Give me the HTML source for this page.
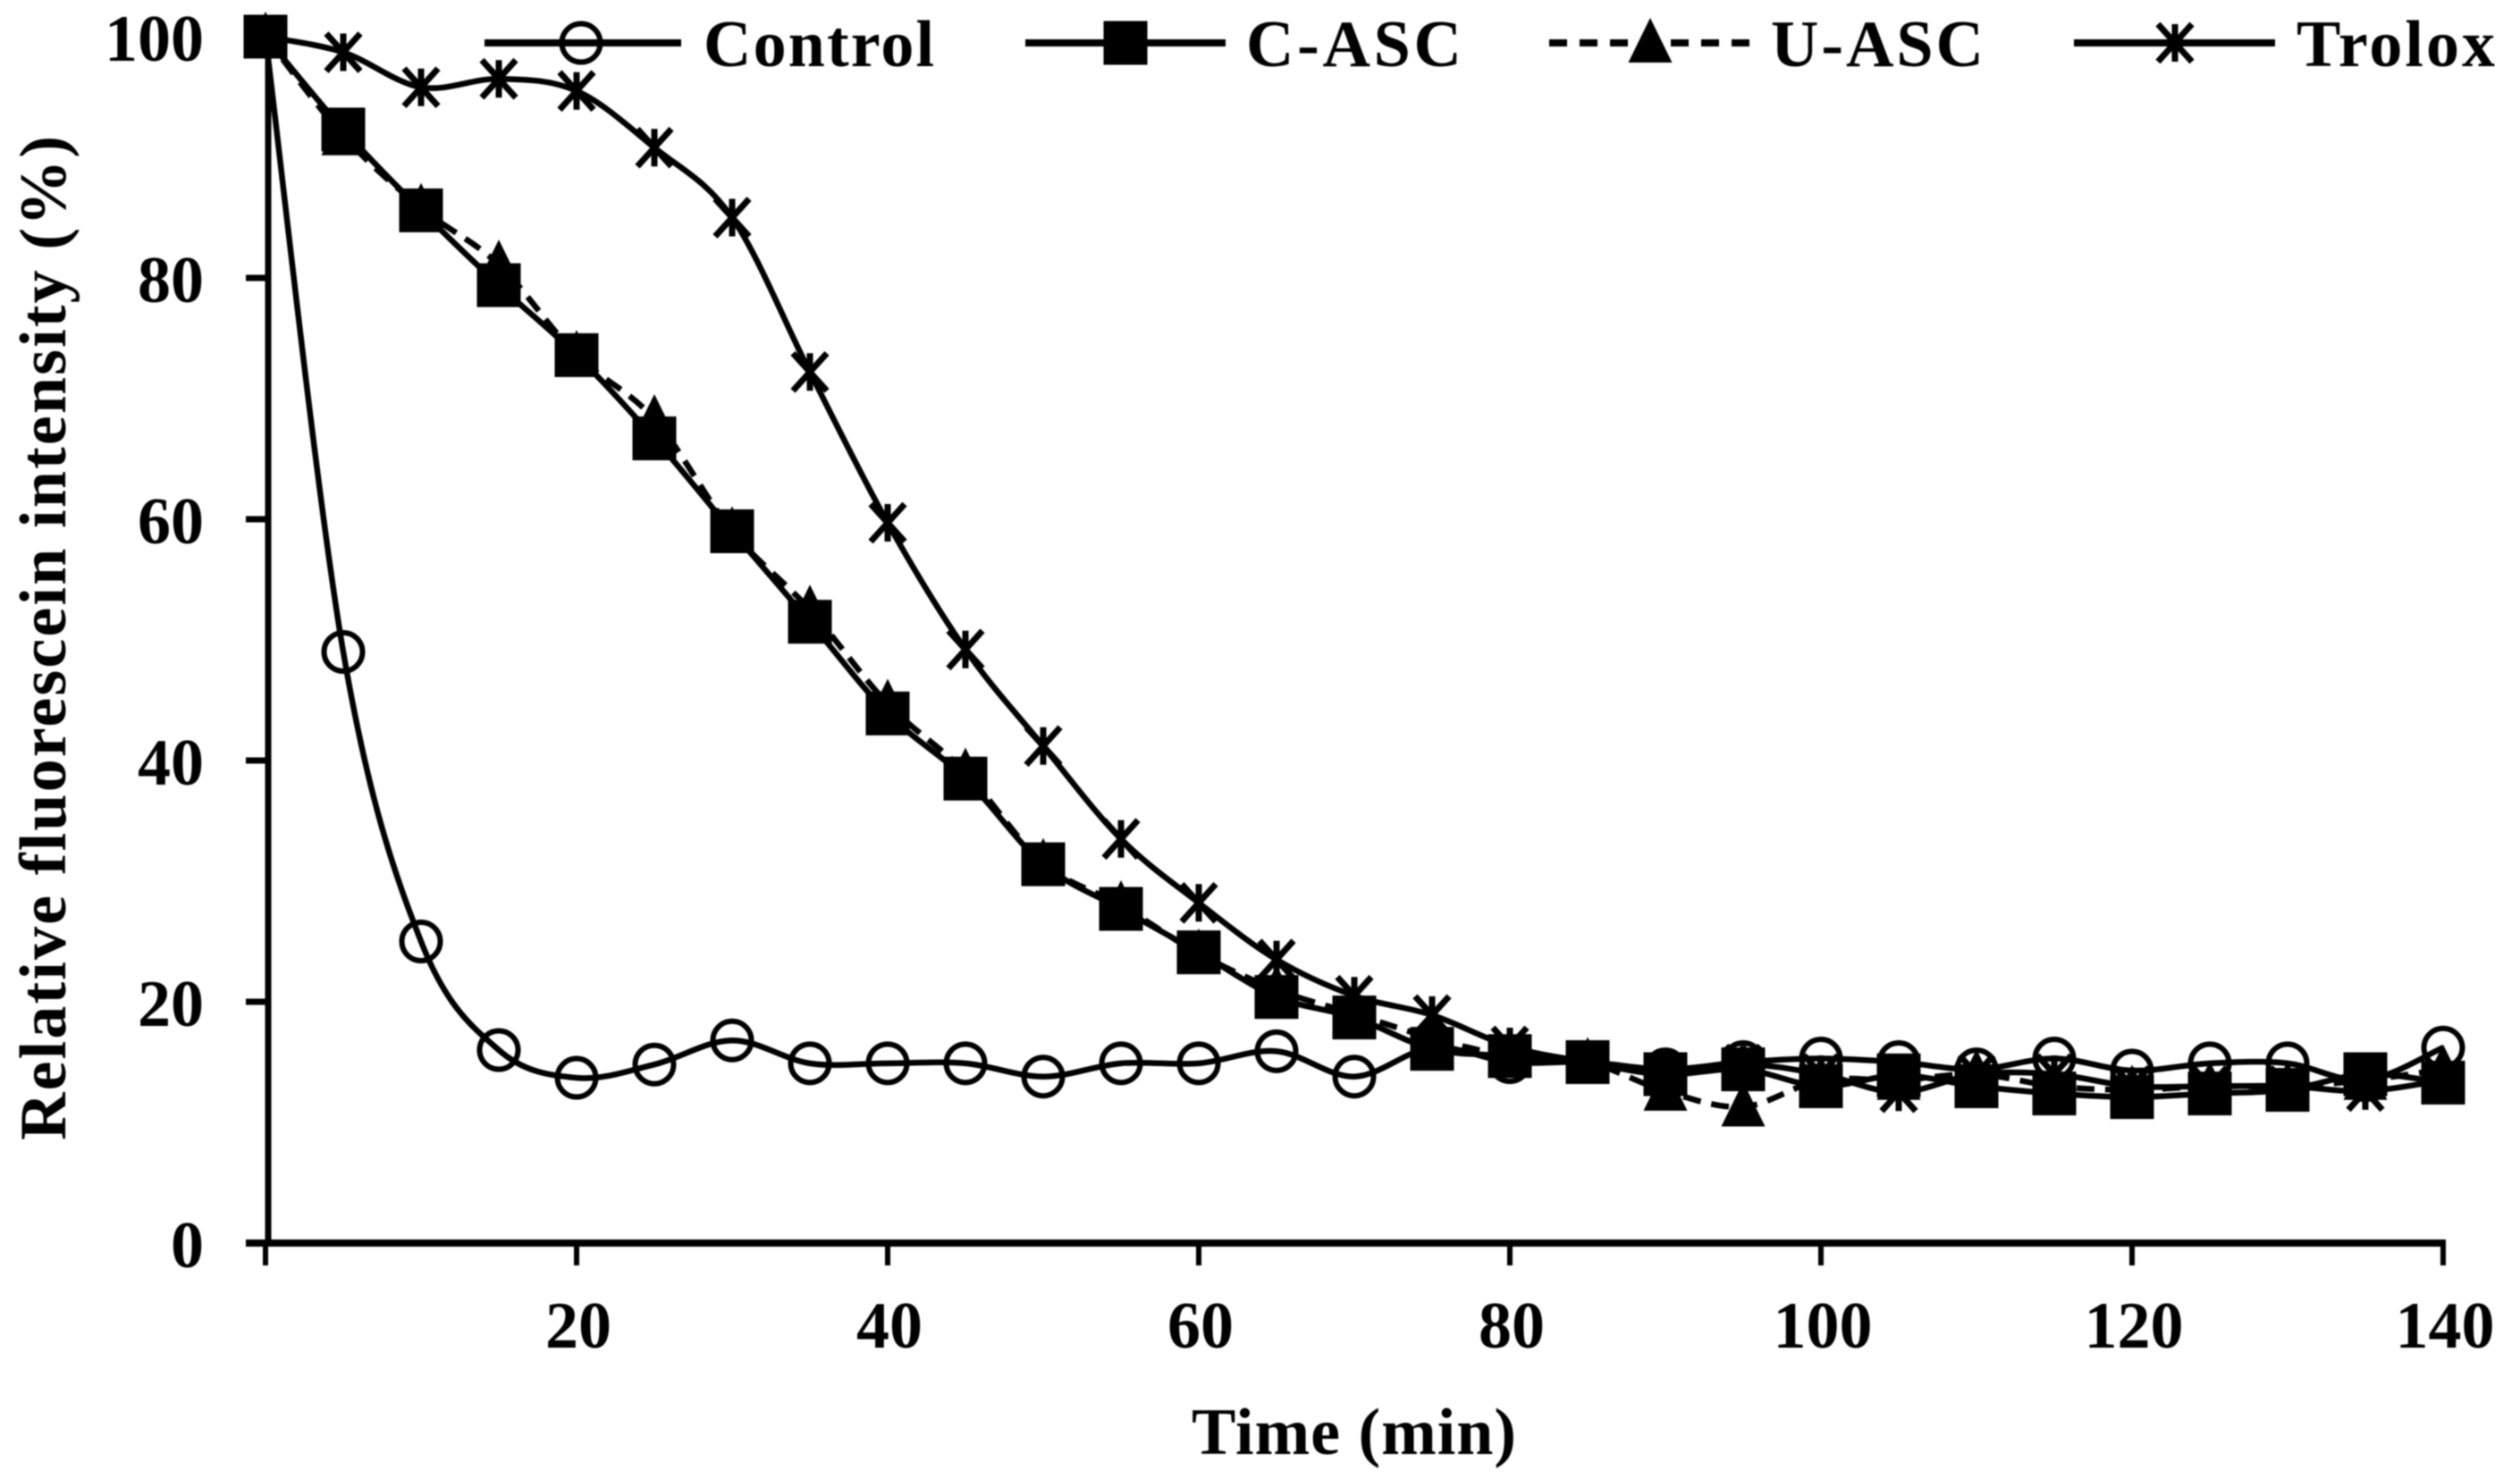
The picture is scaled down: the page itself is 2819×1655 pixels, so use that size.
<!DOCTYPE html>
<html>
<head>
<meta charset="utf-8">
<title>Relative fluorescein intensity over time</title>
<style>
html,body{margin:0;padding:0;background:#fff;width:2819px;height:1655px;overflow:hidden}
svg{display:block}
text{font-family:"Liberation Serif",serif;font-weight:bold;fill:#000}
</style>
</head>
<body>
<svg id="chart" xmlns="http://www.w3.org/2000/svg" width="2819" height="1655" viewBox="0 0 2819 1655">
<defs><filter id="soft" x="0" y="0" width="100%" height="100%"><feGaussianBlur stdDeviation="0.9"/></filter></defs>
<rect width="2819" height="1655" fill="#fff"/>
<g id="root" filter="url(#soft)">
<g id="axes"></g>
<g id="series"></g>
<g id="legend"></g>
<text transform="translate(73,1276) rotate(-90)" font-size="74" textLength="1124">Relative fluorescein intensity (%)</text>
<text x="1333" y="1627" font-size="74" textLength="363">Time (min)</text>
</g>
</svg>
<script>
const times = [0,5,10,15,20,25,30,35,40,45,50,55,60,65,70,75,80,85,90,95,100,105,110,115,120,125,130,135,140];
const controlValues = [100,49,25,16,13.7,14.8,16.8,14.9,14.9,14.9,13.8,14.9,14.9,15.9,13.8,16.2,15,15,14.4,15,15.3,15,14.4,15.3,14.3,14.9,14.9,13.5,16.2];
const cAscValues = [100,92.3,85.6,79.4,73.6,66.7,59,51.5,43.9,38.5,31.4,27.7,24.1,20.4,18.7,16.1,15.5,15,14,14.4,13,13.9,13,12.4,12.1,12.4,12.7,14,13.3];
const uAscValues = [100,91.8,85.8,81.1,73.6,68.3,59,52.5,44.7,39,31.5,28,24,21,19,17,15.5,15,12.6,11.3,13.5,13.5,14,13,12.7,13,13,13.5,14.4];
const troloxValues = [100,98.7,95.8,96.5,95.5,90.8,85,72.2,59.7,49.2,41.2,33.5,28.2,23.5,20.5,18.9,16.3,15,14,14.8,14,12.5,14,14,13,13,13,12.6,13.5];
const xTickValues = [0,20,40,60,80,100,120,140];
const xTickLabels = ["","20","40","60","80","100","120","140"];
const yTickValues = [0,20,40,60,80,100];
const yTickLabels = ["0","20","40","60","80","100"];
const legendLabels = ["Control","C-ASC","U-ASC","Trolox"];

const NS = "http://www.w3.org/2000/svg";
const X0 = 297, X_PER_MIN = 17.4, Y0 = 1391, Y_PER_UNIT = 13.5;
function xScale(t){ return X0 + t * X_PER_MIN; }
function yScale(v){ return Y0 - v * Y_PER_UNIT; }
function make(tag, parent, attrs){
  const el = document.createElementNS(NS, tag);
  for (const k in attrs) el.setAttribute(k, attrs[k]);
  parent.appendChild(el);
  return el;
}
const axes = document.getElementById("axes");
const seriesGroup = document.getElementById("series");
const legend = document.getElementById("legend");

const yAxisLine = make("line", axes, {x1:300,y1:yScale(100),x2:300,y2:Y0,stroke:"#000","stroke-width":7});


const xAxisLine = make("line", axes, {x1:275,y1:Y0,x2:xScale(140)+3,y2:Y0,stroke:"#000","stroke-width":8});



yTickValues.forEach(function(v,i){
  const tick = make("line", axes, {x1:275,y1:yScale(v),x2:300,y2:yScale(v),stroke:"#000","stroke-width":7});
  
  
  const label = make("text", axes, {x:228,y:yScale(v)+27,"text-anchor":"end","font-size":74});
  label.textContent = yTickLabels[i];
  
  
});
xTickValues.forEach(function(v,i){
  const tick = make("line", axes, {x1:xScale(v),y1:Y0,x2:xScale(v),y2:Y0+25,stroke:"#000","stroke-width":6});
  
  
  const label = make("text", axes, {x:xScale(v)+2,y:1508,"text-anchor":"middle","font-size":74});
  label.textContent = xTickLabels[i];
  
  
});

function smoothPath(xs, ys){
  let d = "M" + xs[0] + " " + ys[0];
  for (let i = 0; i < xs.length - 1; i++){
    const a = Math.max(i-1,0), b = Math.min(i+2,xs.length-1);
    const c1x = xs[i] + (xs[i+1]-xs[a])/6, c1y = ys[i] + (ys[i+1]-ys[a])/6;
    const c2x = xs[i+1] - (xs[b]-xs[i])/6, c2y = ys[i+1] - (ys[b]-ys[i])/6;
    d += " C" + c1x + " " + c1y + " " + c2x + " " + c2y + " " + xs[i+1] + " " + ys[i+1];
  }
  return d;
}
function drawMarker(parent, kind, cx, cy){
  if (kind === "circle") return make("circle", parent, {cx:cx,cy:cy,r:21.5,fill:"none",stroke:"#000","stroke-width":6});
  if (kind === "square") return make("rect", parent, {x:cx-24.5,y:cy-24.5,width:49,height:49,fill:"#000"});
  if (kind === "triangle") return make("path", parent, {d:"M"+cx+" "+(cy-28)+" L"+(cx+24.5)+" "+(cy+22)+" L"+(cx-24.5)+" "+(cy+22)+" Z",fill:"#000"});
  const s = 19, t = 21;
  return make("path", parent, {d:"M"+(cx-s)+" "+(cy-t)+" L"+(cx+s)+" "+(cy+t)+" M"+(cx+s)+" "+(cy-t)+" L"+(cx-s)+" "+(cy+t)+" M"+cx+" "+(cy-t)+" L"+cx+" "+(cy+t),fill:"none",stroke:"#000","stroke-width":7});
}
function drawSeries(name, values, kind, dash){
  const g = make("g", seriesGroup, {});
  
  
  const xs = times.map(xScale), ys = values.map(yScale);
  const attrs = {d:smoothPath(xs,ys),fill:"none",stroke:"#000","stroke-width":6.5};
  if (dash) attrs["stroke-dasharray"] = dash;
  const line = make("path", g, attrs);
  
  
  xs.forEach(function(x,i){
    const m = drawMarker(g, kind, x, ys[i]);
    
    
  });
}
drawSeries("control", controlValues, "circle", null);
drawSeries("trolox", troloxValues, "star", null);
drawSeries("u-asc", uAscValues, "triangle", "20 12");
drawSeries("c-asc", cAscValues, "square", null);

const legendRows = [
  {lx1:542,lx2:762,mx:650,tx:787,tl:258,kind:"circle",dash:null},
  {lx1:1147,lx2:1371,mx:1259,tx:1394,tl:241,kind:"square",dash:null},
  {lx1:1733,lx2:1959,mx:1846,tx:1981,tl:238,kind:"triangle",dash:"20 14"},
  {lx1:2320,lx2:2545,mx:2433,tx:2569,tl:222,kind:"star",dash:null}
];
legendRows.forEach(function(r,i){
  const g = make("g", legend, {});
  
  
  const attrs = {x1:r.lx1,y1:48,x2:r.lx2,y2:48,stroke:"#000","stroke-width":8};
  if (r.dash) attrs["stroke-dasharray"] = r.dash;
  const line = make("line", g, attrs);
  
  
  const marker = drawMarker(g, r.kind, r.mx, 48);
  
  
  const label = make("text", g, {x:r.tx,y:74,"font-size":74,textLength:r.tl});
  label.textContent = legendLabels[i];
  
  
});
</script>
</body>
</html>
